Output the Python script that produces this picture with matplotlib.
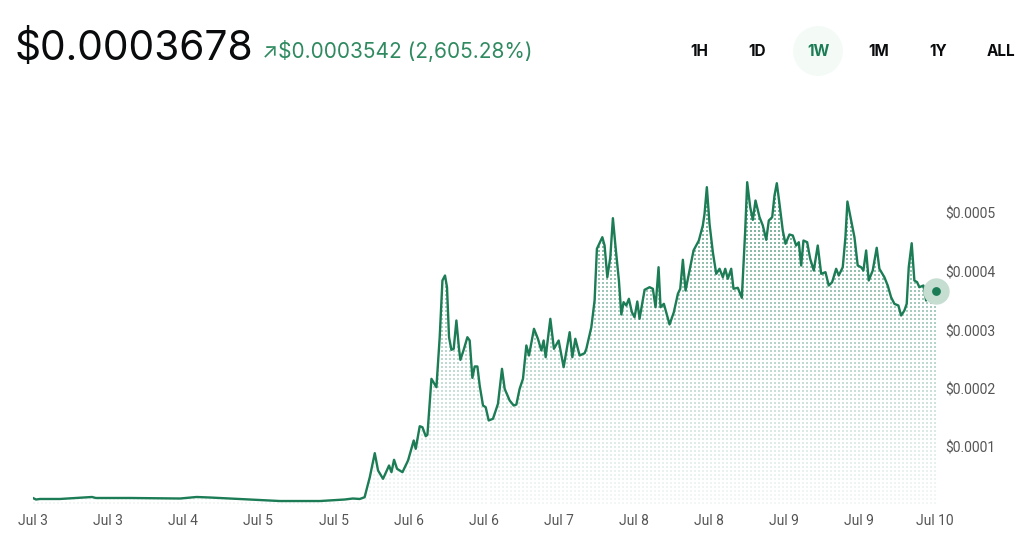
import matplotlib
matplotlib.use("Agg")
import matplotlib.pyplot as plt
from matplotlib.patches import Polygon, Ellipse
import numpy as np

# hours since the start of the 1W window
hours = [0, 0.56, 1.3, 5.0, 11.0, 11.7, 18.1, 27.4, 30.5, 33.0, 40.4, 46.0, 53.5, 58.1, 59.6, 60.9, 61.8,
         62.77, 63.70, 64.31, 65.24, 66.36, 66.81, 67.29, 67.85, 68.86, 69.90, 70.96, 71.33, 72.08, 72.58,
         73.20, 73.51, 74.26, 75.19, 75.80, 76.31, 76.79, 77.16, 77.54, 77.98, 78.41, 78.91, 79.40, 79.66,
         80.27, 80.96, 81.39, 81.89, 82.32, 82.83, 83.25, 83.87, 84.37, 84.93, 85.73, 86.66, 87.41, 87.91,
         88.84, 89.59, 90.09, 90.70, 91.32, 91.95, 92.44, 93.37, 94.11, 94.75, 95.17, 95.55, 96.42, 97.09,
         97.97, 98.90, 100.02, 100.52, 101.08, 101.88, 102.81,
         103.13, 104.06, 104.67, 105.10, 106.11, 106.53, 107.04, 107.60, 108.08, 108.58, 109.20, 109.65,
         110.07, 110.58, 111.06, 111.62, 112.12, 112.63, 113.05, 113.99, 114.92, 115.53, 116.03, 116.59,
         116.96, 117.58, 118.64, 119.44, 120.19, 120.63, 121.12, 121.62, 122.24, 123.11, 124.10, 124.84,
         125.16, 125.59, 126.09, 126.71, 127.34, 127.96, 128.57, 129.02, 129.50, 130.13, 130.56, 131.36,
         132.11, 132.74, 133.11, 133.67, 134.16, 134.66, 135.41, 136.02, 136.66, 137.14, 137.77, 138.20,
         138.63, 139.13, 139.74, 140.25, 140.99, 141.61, 142.24, 142.73, 143.17, 143.60, 144.29, 144.85,
         145.52, 146.26, 146.90, 147.70, 148.31,
         148.94, 149.69, 150.17, 150.92, 151.42, 151.79, 152.48, 153.10, 153.71, 154.34, 154.77, 155.28,
         155.76, 156.51, 157.25, 157.75, 158.68, 159.30, 159.93, 160.55, 161.29, 161.80, 162.41, 162.84,
         163.22, 163.77, 164.27, 164.78, 165.20, 165.95, 166.45, 166.94, 167.57, 168.3]

# price in units of $0.0001
price_e4 = [0.136, 0.111, 0.120, 0.120, 0.154, 0.137, 0.137, 0.128, 0.154, 0.145, 0.111, 0.085, 0.085,
            0.111, 0.128, 0.120, 0.150,
            0.492, 0.903, 0.607, 0.465, 0.692, 0.578, 0.790, 0.636, 0.578, 0.778, 1.120, 0.978, 1.364, 1.347,
            1.193, 1.217, 2.174, 2.031, 2.885, 3.855, 3.940, 3.740, 2.885, 2.670, 2.687, 3.171, 2.687, 2.499,
            2.670, 2.885, 2.829, 2.191, 2.385, 2.385, 2.060, 1.718, 1.689, 1.462, 1.491, 1.747, 2.345, 2.003,
            1.803, 1.718, 1.735, 2.003, 2.174, 2.744, 2.573, 3.029, 2.858, 2.658, 2.829, 2.544, 3.200, 2.687,
            2.829, 2.373, 2.971, 2.544, 2.858, 2.573, 2.612,
            2.687, 3.056, 3.513, 4.397, 4.595, 4.453, 3.911, 4.253, 4.920, 4.424, 3.855, 3.274,
            3.484, 3.427, 3.542, 3.313, 3.227, 3.496, 3.200, 3.696, 3.740, 3.713, 3.398, 4.082,
            3.398, 3.456, 3.103, 3.313, 3.627, 3.713, 4.209, 3.684, 3.969, 4.368, 4.538, 4.795,
            4.995, 5.450, 4.824, 4.338, 3.969, 4.055, 3.911, 4.055, 3.884, 4.055, 3.713, 3.730,
            3.559, 4.709, 5.535, 5.108, 4.892, 5.222, 4.937, 4.795, 4.550, 4.880, 4.937, 5.308,
            5.518, 5.166, 4.709, 4.482, 4.641, 4.624, 4.453, 4.509, 4.111, 4.538, 4.509, 4.226,
            4.026, 4.453, 3.969, 3.997, 3.769,
            3.826, 4.055, 3.940, 4.082, 4.595, 5.205, 4.880, 4.595, 4.111, 4.082, 4.026, 4.368,
            3.855, 4.026, 4.414, 4.055, 3.911, 3.769, 3.569, 3.456, 3.427, 3.256, 3.342, 3.456,
            4.082, 4.492, 3.855, 3.826, 3.740, 3.769, 3.513, 3.655, 3.684, 3.678]

tick_hours = [0, 14, 28, 42, 56, 70, 84, 98, 112, 126, 140, 154, 168]
tick_labels = ["Jul 3", "Jul 3", "Jul 4", "Jul 5", "Jul 5", "Jul 6", "Jul 6",
               "Jul 7", "Jul 8", "Jul 8", "Jul 9", "Jul 9", "Jul 10"]
y_ticks = [0.0001, 0.0002, 0.0003, 0.0004, 0.0005]

current_price = "$0.0003678"
change_text = "\u2197$0.0003542 (2,605.28%)"
ranges = ["1H", "1D", "1W", "1M", "1Y", "ALL"]
range_x = [699, 757, 818, 879, 938, 1001]
selected = "1W"

green = "#1b7c55"
W, H = 1032, 550

prices = np.array(price_e4) * 1e-4
hours = np.array(hours)

fig = plt.figure(figsize=(W / 100, H / 100), dpi=100)
ax_l, ax_b, ax_w, ax_h = 33, 44, 903, 336
ax = fig.add_axes([ax_l / W, ax_b / H, ax_w / W, ax_h / H])
xmax = 168.3
ymax = ax_h / 585 * 0.001
ax.set_xlim(0, xmax)
ax.set_ylim(0, ymax)

# dotted fill, fading towards the bottom
img = np.zeros((ax_h, ax_w, 4))
rows = np.arange(ax_h)
cols = np.arange(ax_w)
dot = ((rows[:, None] % 4) < 2) & ((cols[None, :] % 4) < 2)
frac = 1 - rows / ax_h
alpha = 0.06 + 0.7 * frac ** 1.2
img[..., 0] = 50 / 255
img[..., 1] = 135 / 255
img[..., 2] = 100 / 255
img[..., 3] = np.where(dot, alpha[:, None], 0)
im = ax.imshow(img, extent=(0, xmax, 0, ymax), origin="upper", aspect="auto",
               interpolation="nearest", zorder=1)
poly = Polygon(np.column_stack([np.r_[hours, hours[-1], hours[0]],
                                np.r_[prices, 0, 0]]),
               closed=True, transform=ax.transData, facecolor="none", edgecolor="none")
ax.add_patch(poly)
im.set_clip_path(poly)

ax.plot(hours, prices, color=green, lw=1.7, zorder=3, solid_joinstyle="round")
ax.scatter([hours[-1]], [prices[-1]], s=360, color="#c6ded2", zorder=4, linewidths=0, clip_on=False)
ax.scatter([hours[-1]], [prices[-1]], s=40, color=green, zorder=5, linewidths=0, clip_on=False)

for s in ax.spines.values():
    s.set_visible(False)
ax.set_xticks(tick_hours)
ax.set_xticklabels(tick_labels)
ax.yaxis.tick_right()
ax.set_yticks(y_ticks)
ax.set_yticklabels(["$%.4f" % v for v in y_ticks])
ax.tick_params(axis="both", length=0, colors="#555555", labelsize=10)
ax.tick_params(axis="x", pad=6)
ax.tick_params(axis="y", pad=7)
for lab in ax.get_xticklabels() + ax.get_yticklabels():
    lab.set_family(["Roboto", "DejaVu Sans"])

# header
fig.text(15 / W, 1 - 60 / H, current_price, fontsize=29.3, color="#0a0b0d",
         family=["Inter", "DejaVu Sans"], va="baseline", ha="left")
fig.text(262 / W, 1 - 58 / H, change_text, fontsize=15, color="#2f8a60",
         family=["Inter", "DejaVu Sans"], va="baseline", ha="left")

sel_i = ranges.index(selected)
fig.add_artist(Ellipse((range_x[sel_i] / W, 1 - 51 / H), 50 / W, 50 / H,
                       transform=fig.transFigure, facecolor="#f4fbf7", edgecolor="none"))
for r, x in zip(ranges, range_x):
    fig.text(x / W, 1 - 52 / H, r, fontsize=11, fontweight="bold",
             color=green if r == selected else "#0a0b0d",
             family=["Inter", "DejaVu Sans"], ha="center", va="center")

fig.savefig("out.png", dpi=100)
